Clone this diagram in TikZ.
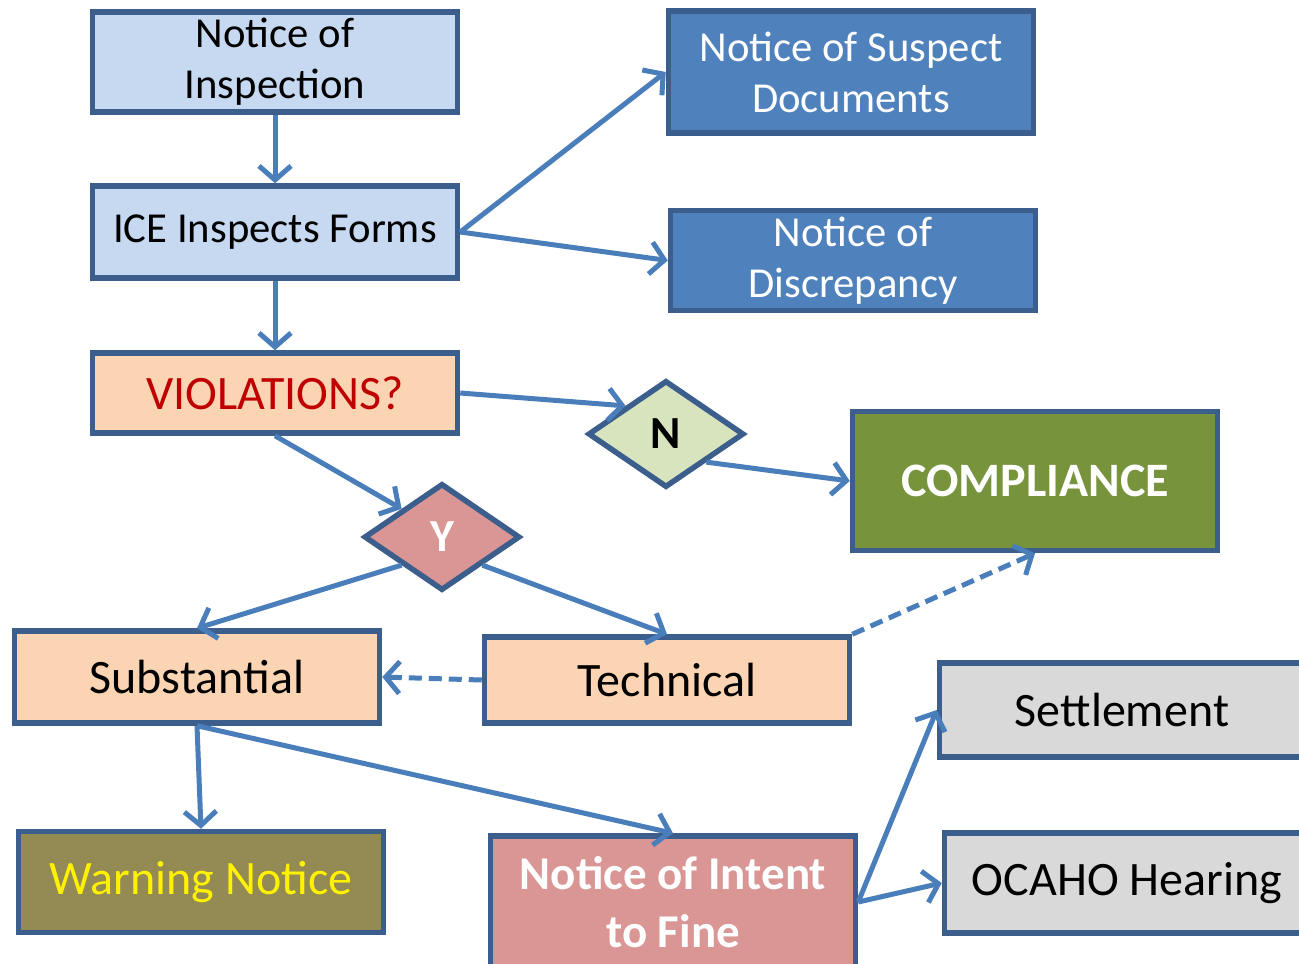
\documentclass[tikz,border=0pt]{standalone}
\usepackage{fontspec}
\setmainfont{Carlito}
\usetikzlibrary{shapes.geometric,arrows.meta}

\definecolor{edgeblue}{HTML}{3B5E8C}
\definecolor{flowblue}{HTML}{4A7EBB}
\definecolor{paleblue}{HTML}{C6D9F1}
\definecolor{midblue}{HTML}{4F81BD}
\definecolor{peach}{HTML}{FBD4B4}
\definecolor{darkred}{HTML}{C00000}
\definecolor{palegreen}{HTML}{D7E4BD}
\definecolor{olivegreen}{HTML}{77933C}
\definecolor{rose}{HTML}{D99694}
\definecolor{khaki}{HTML}{948A54}
\definecolor{lightgrey}{HTML}{D9D9D9}

\begin{document}
\begin{tikzpicture}
	[x=1pt,y=-1pt,
	stepbox/.style={rectangle,draw=edgeblue,line width=5.5pt,inner sep=0pt,
		minimum width=365pt,align=center,font=\fontsize{42.7}{51}\selectfont},
	bigbox/.style={stepbox,font=\fontsize{48}{56}\selectfont},
	choice/.style={diamond,draw=edgeblue,line width=5.5pt,inner sep=0pt,
		minimum width=156pt,minimum height=107pt,font=\fontsize{46}{50}\selectfont\bfseries},
	flow/.style={draw=flowblue,line width=5pt,-{Straight Barb[length=14pt,width=32pt]}},
	maybe/.style={flow,dash pattern=on 13pt off 7pt}]

	\useasboundingbox (0,0) rectangle (1299,964);
	\clip (0,0) rectangle (1299,964);

	% inspection steps
	\node (notice) at (275,62) [stepbox,fill=paleblue,minimum height=100pt] {Notice of\\Inspection};
	\node (inspect) at (275,232) [stepbox,fill=paleblue,minimum height=92pt] {ICE Inspects Forms};
	\node (viol) at (275,393) [bigbox,fill=peach,minimum height=80pt,text=darkred] {VIOLATIONS?};

	\node (suspect) at (851,72) [stepbox,fill=midblue,minimum height=122pt,text=white] {Notice of Suspect\\Documents};
	\node (discr) at (853,260.5) [stepbox,fill=midblue,minimum height=100pt,text=white] {Notice of\\Discrepancy};

	% decisions
	\node (no) at (666,434) [choice,fill=palegreen] {N};
	\node (yes) at (442,537) [choice,fill=rose,text=white] {Y};
	\node (comply) at (1035,481) [bigbox,fill=olivegreen,minimum height=139pt,text=white,
		font=\fontsize{48}{56}\selectfont\bfseries] {COMPLIANCE};

	% kinds of violation
	\node (subst) at (197,677) [bigbox,fill=peach,minimum height=92pt] {Substantial};
	\node (tech) at (667,680) [bigbox,fill=peach,minimum height=86pt] {Technical};

	% outcomes
	\node (warn) at (201,882) [bigbox,fill=khaki,minimum height=101pt,text=yellow] {Warning Notice};
	\node (fine) at (673,902) [bigbox,fill=rose,minimum height=132pt,text=white,
		font=\fontsize{47}{58}\selectfont\bfseries] {Notice of Intent\\to Fine};
	\node (settle) at (1122,710) [bigbox,fill=lightgrey,minimum height=94pt] {Settlement};
	\node (hearing) at (1127,883) [bigbox,fill=lightgrey,minimum height=100pt] {OCAHO Hearing};

	\draw[flow] (notice) -- (inspect);
	\draw[flow] (inspect.east) -- (suspect.west);
	\draw[flow] (inspect.east) -- (discr.west);
	\draw[flow] (inspect) -- (viol);
	\draw[flow] (viol.east) -- (no.north west);
	\draw[flow] (no.south east) -- (comply.west);
	\draw[flow] (viol.south) -- (yes.north west);
	\draw[flow] (yes.south west) -- (subst.north);
	\draw[flow] (yes.south east) -- (tech.north);
	\draw[maybe] (tech.west) -- (subst.east);
	\draw[maybe] (tech.north east) -- (comply.south);
	\draw[flow] (subst.south) -- (warn.north);
	\draw[flow] (subst.south) -- (fine.north);
	\draw[flow] (fine.east) -- (settle.west);
	\draw[flow] (fine.east) -- (hearing.west);

\end{tikzpicture}
\end{document}
